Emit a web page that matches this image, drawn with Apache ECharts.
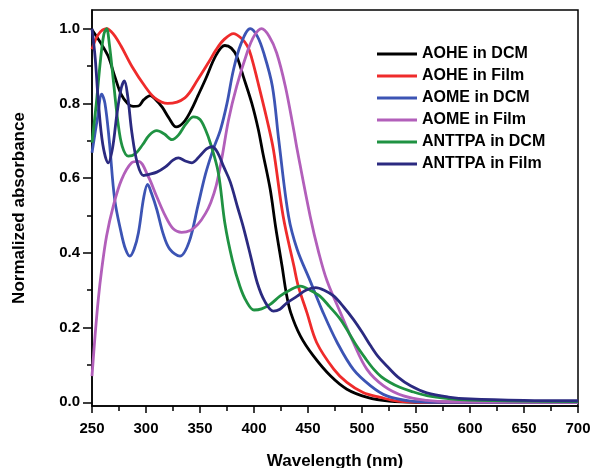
<!DOCTYPE html>
<html><head><meta charset="utf-8">
<script src="https://cdn.jsdelivr.net/npm/echarts@6/dist/echarts.min.js"></script>
<style>html,body{margin:0;padding:0;background:#fff}#c{width:592px;height:468px}</style>
</head><body><div id="c"></div><script>
const seriesNames = ['AOHE in DCM','AOHE in Film','AOME in DCM','AOME in Film','ANTTPA in DCM','ANTTPA in Film'];
const seriesColors = ['#000000','#ef2b2b','#3c54b4','#b25fba','#1f9242','#2b2a80'];
const yMajorTicks = [0,0.2,0.4,0.6,0.8,1.0];
const yMinorTicks = [0.1,0.3,0.5,0.7,0.9];

const aoheDCM = [[250,0.997],[258,0.962],[265,0.926],[271,0.873],[277,0.824],[283,0.80],[288,0.792],[293,0.793],[298,0.81],[304,0.821],[309,0.81],[315,0.79],[321,0.762],[328,0.737],[335,0.75],[342,0.783],[348,0.82],[355,0.864],[365,0.93],[373,0.955],[379,0.948],[384,0.926],[390,0.873],[398,0.80],[404,0.73],[408,0.67],[415,0.57],[420,0.47],[426,0.364],[430,0.29],[434,0.24],[443,0.177],[455,0.124],[471,0.07],[486,0.035],[505,0.013],[525,0.003],[550,0],[700,0]];
const aoheFilm = [[250,0.945],[256,0.985],[263.5,1.0],[270,0.985],[277,0.953],[287,0.899],[299,0.846],[308,0.815],[320,0.80],[336,0.815],[348,0.864],[358,0.91],[365,0.944],[372,0.97],[381,0.987],[388,0.975],[394,0.953],[398,0.92],[403,0.864],[412,0.757],[418,0.676],[427,0.498],[437,0.364],[441,0.311],[449,0.24],[458,0.16],[474,0.088],[486,0.053],[501,0.026],[517,0.013],[533,0.003],[555,0],[700,0]];
const aomeDCM = [[250,0.668],[255,0.76],[259,0.825],[262,0.80],[266,0.70],[271,0.543],[277,0.454],[281,0.41],[285,0.391],[289,0.41],[293,0.454],[298,0.55],[301.5,0.583],[305,0.56],[310,0.516],[316,0.45],[322,0.41],[331.5,0.391],[340,0.43],[348,0.525],[355,0.61],[362,0.675],[369,0.73],[375,0.80],[381,0.89],[388,0.96],[396.6,1.0],[403,0.98],[409,0.935],[417,0.846],[423,0.70],[432,0.498],[440,0.409],[452,0.325],[464,0.24],[477,0.16],[492,0.088],[508,0.044],[523,0.017],[545,0.003],[565,0],[700,0]];
const aomeFilm = [[250,0.07],[252.8,0.177],[255.8,0.275],[259,0.356],[263.5,0.445],[269.7,0.525],[277.4,0.596],[286.7,0.641],[293,0.645],[302,0.605],[310,0.55],[318,0.498],[325,0.465],[333,0.455],[341,0.46],[348,0.476],[355,0.505],[360,0.535],[365,0.58],[370,0.65],[376.5,0.757],[384,0.846],[393.5,0.935],[400,0.98],[407,1.0],[414,0.98],[421,0.935],[429,0.846],[436.7,0.73],[440,0.676],[452,0.498],[460,0.40],[467.6,0.325],[480,0.24],[492,0.16],[504.6,0.088],[520,0.044],[538.5,0.017],[560,0.005],[580,0.001],[700,0]];
const anttpaDCM = [[250,0.695],[254,0.80],[258,0.92],[261,0.985],[263.5,1.0],[266,0.96],[270,0.855],[274,0.75],[278,0.685],[283.6,0.659],[290,0.665],[297,0.69],[303,0.715],[310,0.727],[317,0.718],[324,0.703],[330,0.715],[337,0.745],[344,0.764],[350,0.757],[355,0.73],[360,0.69],[367,0.614],[373,0.48],[380,0.38],[387,0.31],[393,0.27],[400,0.247],[407,0.25],[415,0.262],[424,0.284],[433,0.30],[443,0.311],[452,0.30],[461,0.284],[470,0.256],[480,0.222],[488,0.185],[495,0.151],[503,0.118],[511,0.088],[518,0.068],[526,0.053],[535,0.04],[545,0.03],[560,0.018],[580,0.01],[600,0.006],[650,0.003],[700,0.002]];
const anttpaFilm = [[250,1.0],[253,0.92],[256,0.80],[260,0.69],[265,0.641],[269,0.68],[273,0.77],[277,0.84],[280,0.86],[283,0.82],[287,0.72],[292,0.64],[297.8,0.607],[303,0.61],[310,0.616],[318,0.63],[325,0.648],[330,0.654],[337,0.645],[342.6,0.641],[350,0.66],[356,0.678],[361,0.684],[366,0.67],[372,0.63],[378,0.59],[385,0.52],[390,0.47],[397,0.39],[403,0.32],[410,0.27],[418,0.244],[424,0.249],[430,0.265],[440,0.284],[448,0.30],[457,0.307],[465,0.30],[474,0.284],[483,0.255],[492,0.222],[500,0.188],[508,0.151],[515,0.122],[523,0.097],[533,0.068],[545,0.044],[560,0.025],[580,0.014],[600,0.009],[650,0.005],[700,0.004]];

const seriesData = [aoheDCM, aoheFilm, aomeDCM, aomeFilm, anttpaDCM, anttpaFilm];
const FONT = 'Liberation Sans, Arial, sans-serif';
const axisLineStyle = {color:'#000', width:1.5};

const chart = echarts.init(document.getElementById('c'), null, {renderer:'canvas'});
chart.setOption({
  animation:false,
  backgroundColor:'#fff',
  grid:{left:92, right:14, top:10, bottom:62, containLabel:false, outerBoundsMode:'none',
    show:true, borderColor:'#000', borderWidth:1.5, backgroundColor:'transparent'},
  legend:{
    orient:'vertical', left:372, top:41, itemWidth:40, itemHeight:3, itemGap:6,
    icon:'rect',
    data:seriesNames,
    textStyle:{fontFamily:FONT, fontWeight:'bold', fontSize:16, color:'#000'}
  },
  xAxis:{
    type:'value', min:250, max:700, interval:50,
    axisLine:{show:true, onZero:false, lineStyle:axisLineStyle},
    axisTick:{show:true, length:7, lineStyle:axisLineStyle},
    minorTick:{show:true, splitNumber:2, length:5, lineStyle:axisLineStyle},
    splitLine:{show:false},
    axisLabel:{fontFamily:FONT, fontWeight:'bold', fontSize:15, color:'#000', margin:15},
    name:'Wavelength (nm)', nameLocation:'middle', nameGap:47,
    nameTextStyle:{fontFamily:FONT, fontWeight:'bold', fontSize:17, color:'#000'}
  },
  yAxis:[{
    type:'value', min:-0.01, max:1.05,
    axisLine:{show:true, onZero:false, lineStyle:axisLineStyle},
    axisTick:{show:true, length:9, lineStyle:axisLineStyle, customValues:yMajorTicks},
    splitLine:{show:false},
    axisLabel:{fontFamily:FONT, fontWeight:'bold', fontSize:15, color:'#000', margin:12,
      customValues:yMajorTicks, formatter:v=>Number(v).toFixed(1)},
    name:'Normalized absorbance', nameLocation:'middle', nameGap:64,
    nameTextStyle:{fontFamily:FONT, fontWeight:'bold', fontSize:17, color:'#000'}
  },{
    type:'value', min:-0.01, max:1.05, position:'left',
    axisLine:{show:false, onZero:false},
    axisTick:{show:true, length:5, lineStyle:axisLineStyle, customValues:yMinorTicks},
    axisLabel:{show:false},
    splitLine:{show:false}
  }],
  series: seriesNames.map((n,i)=>({
    name:n, type:'line', data:seriesData[i], yAxisIndex:0,
    smooth:0.35, symbol:'none', showSymbol:false,
    color:seriesColors[i],
    lineStyle:{width:2.8, color:seriesColors[i]},
    z: 2
  }))
});
</script></body></html>
